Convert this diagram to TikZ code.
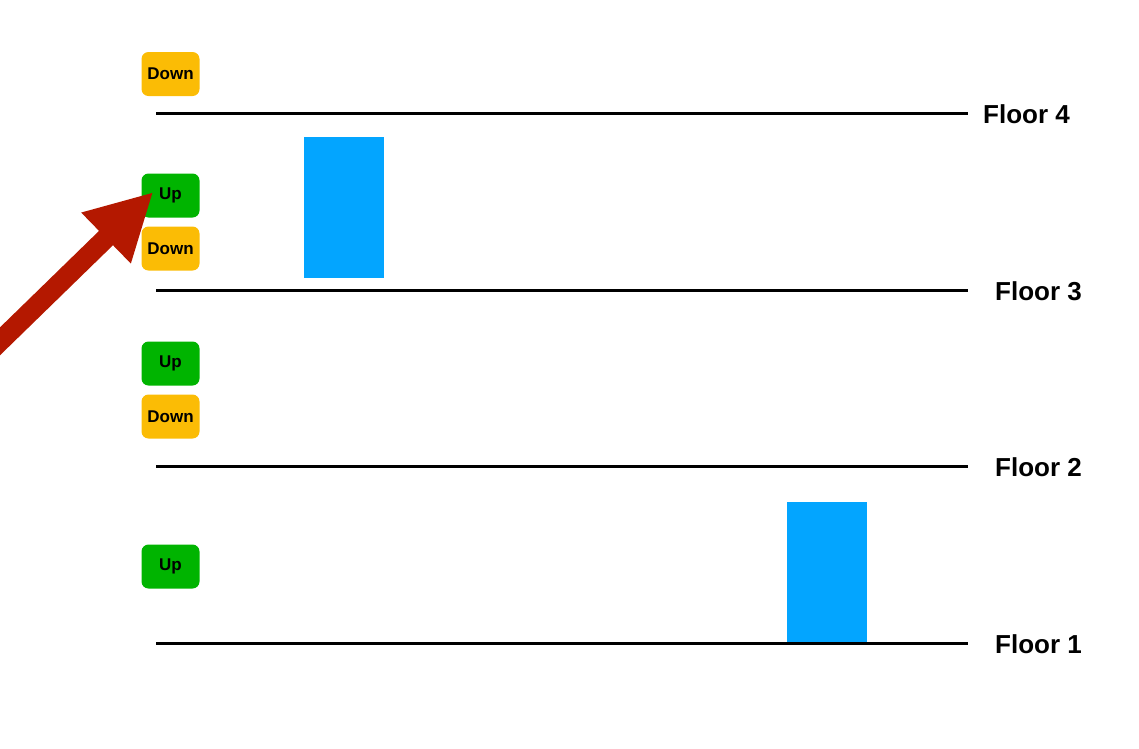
\documentclass[tikz,border=0pt]{standalone}
\usepackage{fontspec}
\setmainfont{Liberation Sans}
\usetikzlibrary{arrows.meta}

\definecolor{btngreen}{RGB}{0,180,0}
\definecolor{btnorange}{RGB}{251,188,5}
\definecolor{carblue}{RGB}{3,165,255}
\definecolor{pointred}{RGB}{180,24,0}

\begin{document}
\begin{tikzpicture}[x=1pt, y=-1pt,
  btn/.style={rounded corners=7pt, minimum width=58pt, minimum height=44pt, inner sep=0pt, font=\fontsize{17}{20}\selectfont\bfseries},
  upbtn/.style={btn, fill=btngreen},
  downbtn/.style={btn, fill=btnorange},
  cabin/.style={fill=carblue, minimum width=80pt, minimum height=141pt, inner sep=0pt},
  floorline/.style={line width=3pt},
  floorlabel/.style={anchor=west, inner sep=0pt, font=\fontsize{26}{30}\selectfont\bfseries}]
\useasboundingbox (0,0) rectangle (1139,748);
% cabins
\node[cabin] (c1) at (344,207.5) {};
\node[cabin] (c2) at (827,572.5) {};
% floors
\draw[floorline] (156,113) -- (968,113);
\node[floorlabel] (f4) at (983,114) {Floor 4};
\draw[floorline] (156,290) -- (968,290);
\node[floorlabel] (f3) at (995,291) {Floor 3};
\draw[floorline] (156,466) -- (968,466);
\node[floorlabel] (f2) at (995,467) {Floor 2};
\draw[floorline] (156,643) -- (968,643);
\node[floorlabel] (f1) at (995,644) {Floor 1};
% call buttons
\node[downbtn] (d4) at (170.5,74) {Down};
\node[upbtn] (u3) at (170.5,195.5) {Up};
\node[downbtn] (d3) at (170.5,248.5) {Down};
\node[upbtn] (u2) at (170.5,363.5) {Up};
\node[downbtn] (d2) at (170.5,416.5) {Down};
\node[upbtn] (u1) at (170.5,566.5) {Up};
% pointer
\coordinate (tail) at (-12,353);
\draw[pointred, line width=20pt, -{Triangle[length=66pt,width=66pt]}] (tail) -- ([xshift=12pt,yshift=3.5pt]u3.west);
\end{tikzpicture}
\end{document}
